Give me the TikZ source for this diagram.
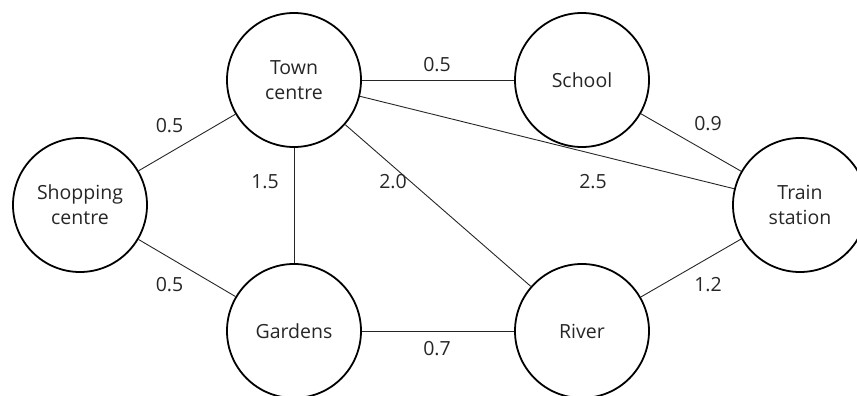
\documentclass[tikz,border=0pt]{standalone}
\usepackage{fontspec}
\setmainfont{Open Sans}
\begin{document}
\begin{tikzpicture}[x=1pt,y=-1pt,
  place/.style={circle,draw=black,line width=1.8pt,minimum size=134pt,inner sep=0pt,
    align=center,font=\fontsize{19.5}{25}\selectfont,text=black!85},
  link/.style={line width=0.9pt,draw=black!85},
  wt/.style={font=\fontsize{19.5}{22}\selectfont,text=black!85,inner sep=0pt}]
\useasboundingbox (0,0) rectangle (857,396);
\node[place] (town) at (294,80) {Town\\centre};
\node[place] (school) at (582,80) {School};
\node[place] (shop) at (80,205) {Shopping\\centre};
\node[place] (train) at (800,205) {Train\\station};
\node[place] (gard) at (294,331) {Gardens};
\node[place] (river) at (582,331) {River};
\draw[link] (town) -- (school);
\draw[link] (town) -- (shop);
\draw[link] (town) -- (gard);
\draw[link] (town) -- (river);
\draw[link] (town) -- (train);
\draw[link] (school) -- (train);
\draw[link] (shop) -- (gard);
\draw[link] (gard) -- (river);
\draw[link] (river) -- (train);
\node[wt] (w1) at (437,65) {0.5};
\node[wt] (w2) at (169.5,126) {0.5};
\node[wt] (w3) at (708,124) {0.9};
\node[wt] (w4) at (265,182) {1.5};
\node[wt] (w5) at (393,182) {2.0};
\node[wt] (w6) at (593,182) {2.5};
\node[wt] (w7) at (169.5,285) {0.5};
\node[wt] (w8) at (708,285) {1.2};
\node[wt] (w9) at (437,348.5) {0.7};
\end{tikzpicture}
\end{document}
